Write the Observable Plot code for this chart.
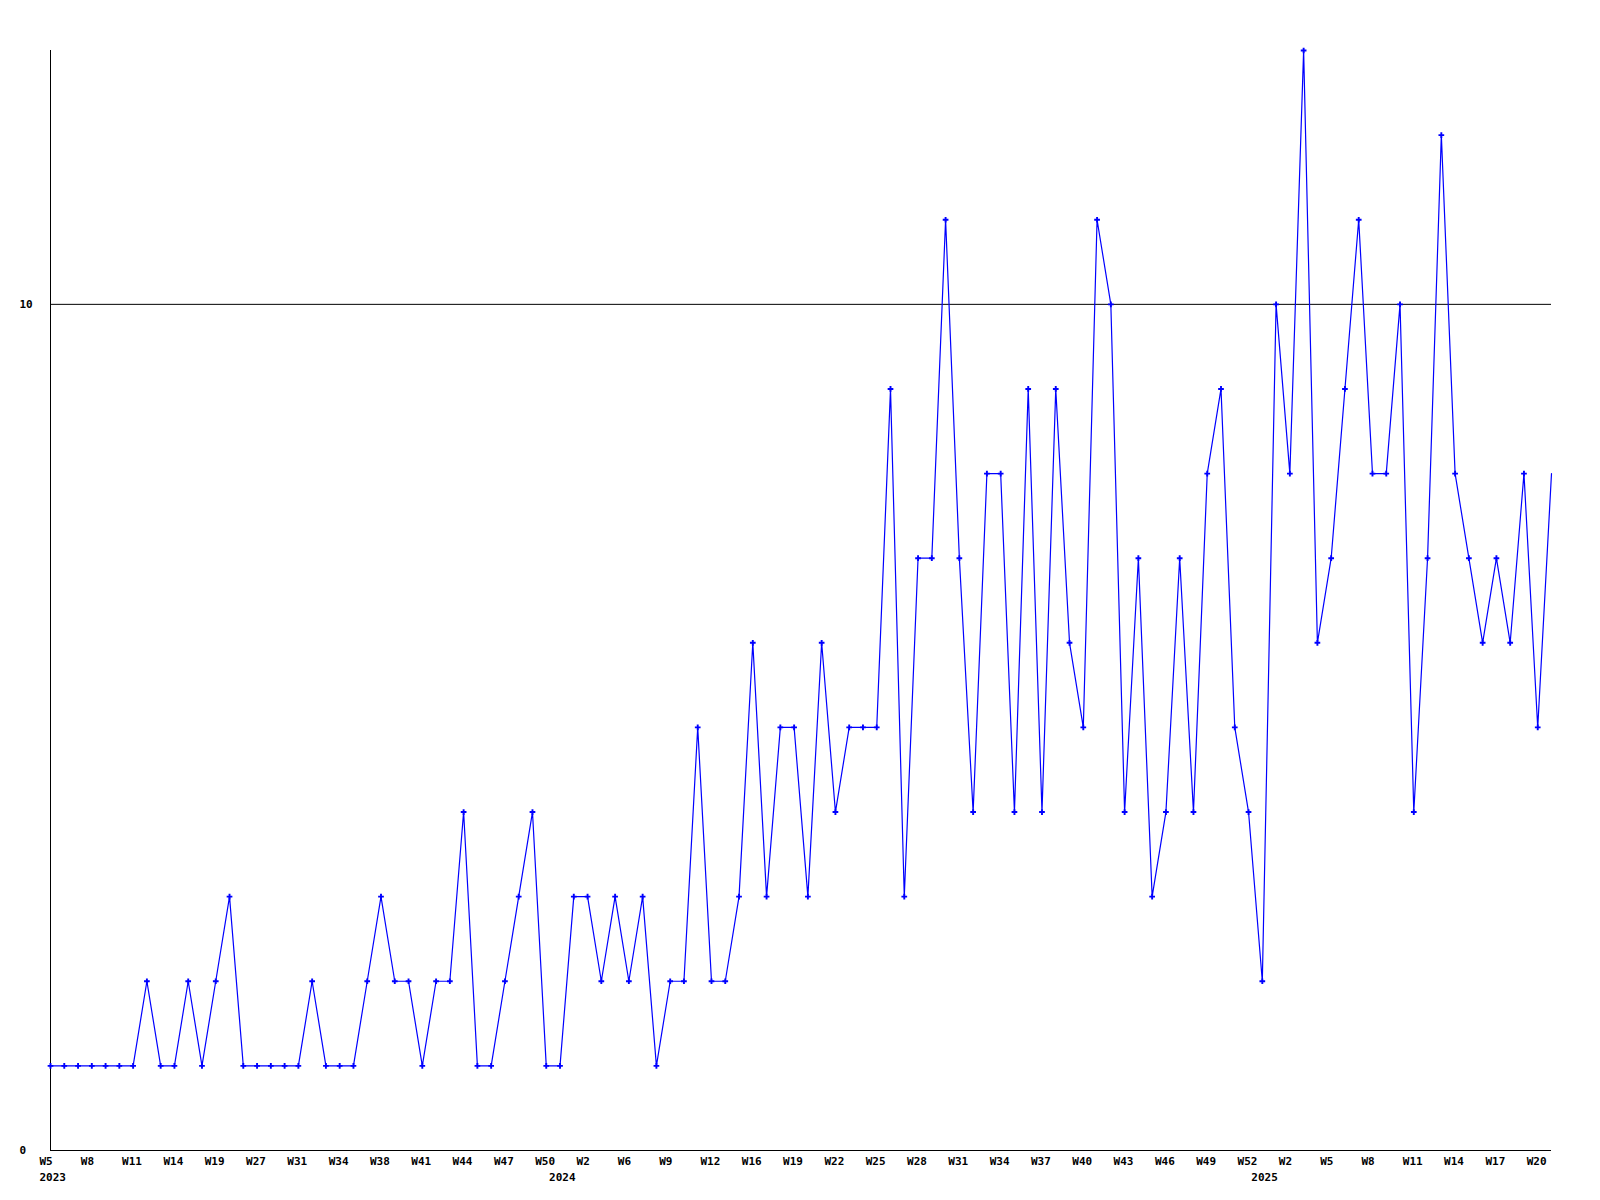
<!DOCTYPE html>
<html>
<head>
<meta charset="utf-8">
<script src="https://cdn.jsdelivr.net/npm/d3@7"></script>
<script src="https://cdn.jsdelivr.net/npm/@observablehq/plot@0.6"></script>
<style>
  html, body { margin: 0; padding: 0; background: #fff; }
  #chart svg { display: block; }
</style>
</head>
<body>
<div id="chart"></div>
<script>
// weekly counts, one value per data point (in order)
const values = [
  1,1,1,1,1,1,1,2,1,1,
  2,1,2,3,1,1,1,1,1,2,
  1,1,1,2,3,2,2,1,2,2,
  4,1,1,2,3,4,1,1,3,3,
  2,3,2,3,1,2,2,5,2,2,
  3,6,3,5,5,3,6,4,5,5,
  5,9,3,7,7,11,7,4,8,8,
  4,9,4,9,6,5,11,10,4,7,
  3,4,7,4,8,9,5,4,2,10,
  8,13,6,7,9,11,8,8,10,4,
  7,12,8,7,6,7,6,8,5,8
];

// x tick labels, one for every third data point
const weekLabels = ["W5","W8","W11","W14","W19","W27","W31","W34","W38","W41","W44","W47","W50",
  "W2","W6","W9","W12","W16","W19","W22","W25","W28","W31","W34","W37","W40","W43","W46","W49","W52",
  "W2","W5","W8","W11","W14","W17","W20"];
const weekStep = 3;

// year labels and the data point where each year starts
const yearLabels = ["2023","2024","2025"];
const yearIndex = [0, 37, 88];

// y tick labels
const yTicks = [0, 10];

const lastIndex = values.length - 1;
const font = {fontFamily: "DejaVu Sans Mono", fontWeight: "bold", fontSize: 11, fill: "#000"};

const chart = Plot.plot({
  width: 1600,
  height: 1200,
  marginLeft: 50,
  marginRight: 49,
  marginTop: 50,
  marginBottom: 50,
  style: {background: "#fff", overflow: "visible"},
  x: {axis: null, domain: [0, lastIndex]},
  y: {axis: null, domain: [0, 13]},
  marks: [
    Plot.ruleY([10], {x1: 0, x2: lastIndex, stroke: "#000", strokeWidth: 1}),
    Plot.ruleX([0], {y1: 0, y2: 13, stroke: "#000", strokeWidth: 1}),
    Plot.ruleY([0], {x1: 0, x2: lastIndex, stroke: "#000", strokeWidth: 1}),
    Plot.line(values, {x: (d, i) => i, y: d => d, stroke: "#0000ff", strokeWidth: 1.2}),
    Plot.dot(values, {x: (d, i) => i, y: d => d, filter: (d, i) => i < lastIndex,
      symbol: "cross", r: 2.4, fill: "#0000ff", stroke: null}),
    Plot.text(weekLabels, {x: (d, i) => i * weekStep, text: d => d, frameAnchor: "bottom",
      dy: 11, dx: -11, textAnchor: "start", lineAnchor: "middle", ...font}),
    Plot.text(yearLabels, {x: (d, i) => yearIndex[i], text: d => d, frameAnchor: "bottom",
      dy: 27, dx: -11, textAnchor: "start", lineAnchor: "middle", ...font}),
    Plot.text(yTicks, {y: d => d, text: d => String(d), frameAnchor: "left",
      dx: -31, textAnchor: "start", lineAnchor: "middle", ...font})
  ]
});
document.getElementById("chart").appendChild(chart);
</script>
</body>
</html>
